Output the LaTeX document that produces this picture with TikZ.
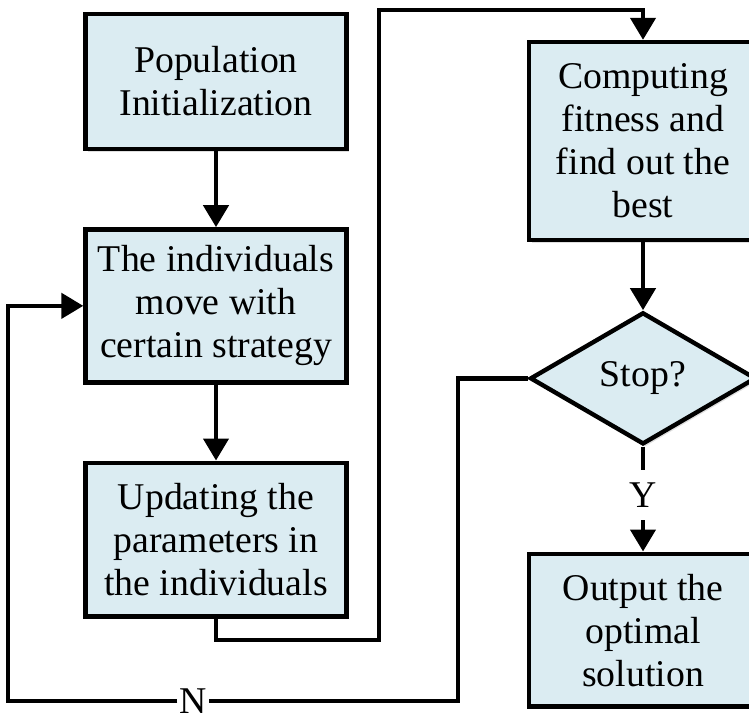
\documentclass[tikz,border=0pt]{standalone}
\usepackage{fontspec}
\setmainfont{Liberation Serif}
\usetikzlibrary{positioning, shapes.geometric, arrows.meta, shadows}
\definecolor{boxblue}{RGB}{219,236,242}

\begin{document}
\begin{tikzpicture}[
            x=0.02cm, y=-0.02cm,
            node distance=1.52cm,
            font=\fontsize{21.5}{24.5}\selectfont,
            stepbox/.style = {draw, line width=2.5pt, fill=boxblue, align=center, inner sep=2pt,
                              drop shadow={shadow xshift=1.5pt, shadow yshift=-1.5pt, opacity=0.25}},
            leftbox/.style = {stepbox, minimum width=5.22cm},
            rightbox/.style = {stepbox, minimum width=4.56cm},
            decision/.style = {diamond, draw, line width=2.5pt, fill=boxblue, aspect=1.71,
                               minimum width=4.52cm, minimum height=2.64cm, inner sep=0pt,
                               drop shadow={shadow xshift=1.5pt, shadow yshift=-1.5pt, opacity=0.25}},
            flow/.style = {line width=2.5pt, -{Triangle[length=0.44cm, width=0.5cm]}},
            link/.style = {line width=2.5pt}
          ]
          \useasboundingbox (0,0) rectangle (749,716);

          \node[leftbox, minimum height=2.7cm] (init) at (216,81.5) {Population\\Initialization};
          \node[leftbox, minimum height=3.06cm, below=of init] (move) {The individuals\\move with\\certain strategy};
          \node[leftbox, minimum height=3.08cm, below=of move] (update) {Updating the\\parameters in\\the individuals};

          \node[rightbox, minimum height=3.96cm] (fit) at (643,141) {Computing\\fitness and\\find out the\\best};
          \node[decision, below=1.36cm of fit] (stop) {Stop?};
          \node[inner xsep=1pt, inner ysep=7pt] (yes) at (643,495) {Y};
          \node[rightbox, minimum height=3.06cm, below=2.1cm of stop] (out) {Output the\\optimal\\solution};

          \node[inner xsep=1pt, inner ysep=1pt] (no) at (193,701) {N};

          \coordinate (upturn) at (379,640);
          \coordinate (topturn) at (379,10);
          \coordinate (noturn) at (458,701);
          \coordinate (leftturn) at (8,701);

          \draw[flow] (init) -- (move);
          \draw[flow] (move) -- (update);
          \draw[flow] (update.south) |- (upturn) -- (topturn) -| (fit.north);
          \draw[flow] (fit) -- (stop);
          \draw[link] (stop) -- (yes);
          \draw[flow] (yes) -- (out);
          \draw[link] (stop.west) -| (noturn) -- (no);
          \draw[flow] (no) -- (leftturn) |- (move.west);
        \end{tikzpicture}
\end{document}
